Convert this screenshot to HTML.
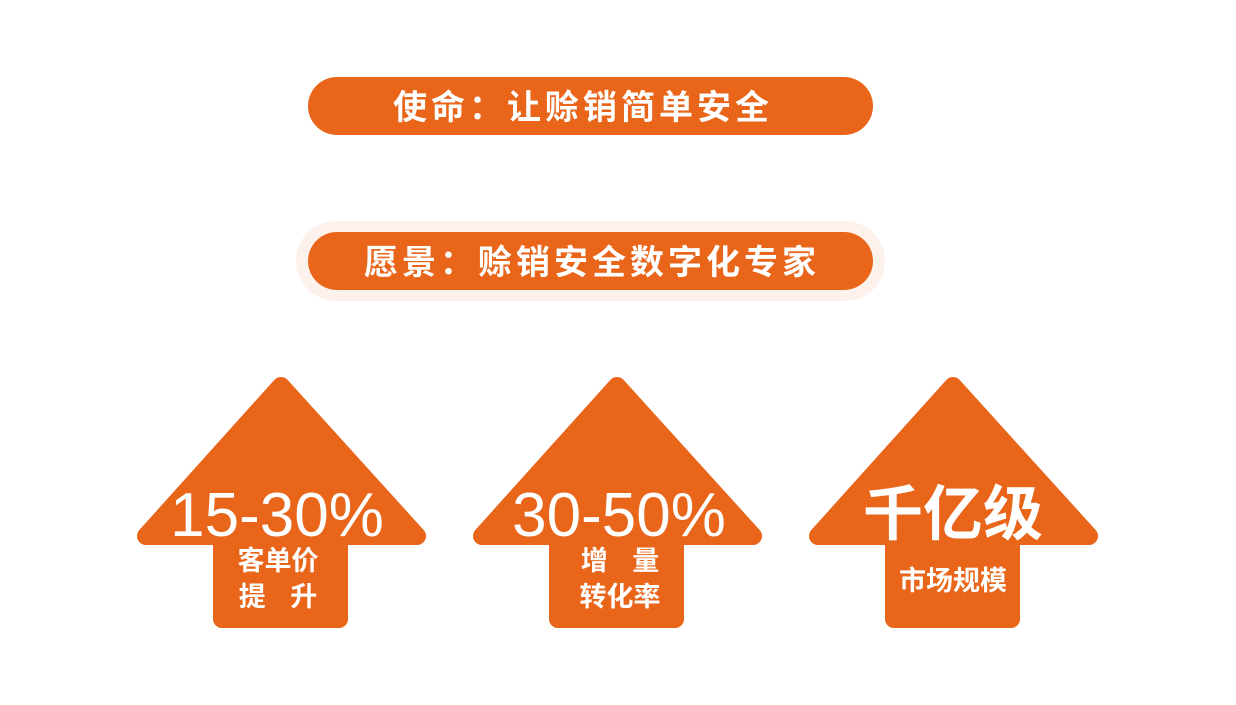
<!DOCTYPE html>
<html><head><meta charset="utf-8"><style>
body{margin:0;width:1236px;height:705px;background:#fff;overflow:hidden;font-family:"Liberation Sans","Noto Sans CJK SC",sans-serif;}
</style></head><body>
<svg width="1236" height="705" xmlns="http://www.w3.org/2000/svg" style="position:absolute;left:0;top:0">
<rect x="308" y="77" width="565" height="58" rx="29" fill="#E8651A"/>
<text x="583" y="119" text-anchor="middle" font-size="34" font-weight="bold" letter-spacing="4" fill="#fff" font-family="Noto Sans CJK SC, sans-serif">使命：让赊销简单安全</text>
<rect x="296" y="221" width="589" height="80" rx="40" fill="#FDF1EC"/>
<rect x="308" y="232" width="565" height="58" rx="29" fill="#E8651A"/>
<text x="592" y="274" text-anchor="middle" font-size="34" font-weight="bold" letter-spacing="4" fill="#fff" font-family="Noto Sans CJK SC, sans-serif">愿景：赊销安全数字化专家</text>
<g fill="#E8651A" stroke="#E8651A" stroke-width="18" stroke-linejoin="round">
<path d="M281,386 L417,536 L339,536 L339,619 L222,619 L222,536 L146,536 Z"/>
<path d="M617,386 L753,536 L675,536 L675,619 L558,619 L558,536 L482,536 Z"/>
<path d="M953,386 L1089,536 L1011,536 L1011,619 L894,619 L894,536 L818,536 Z"/>
</g>
<g fill="#fff" text-anchor="middle">
<text x="277" y="536" font-size="62">15-30%</text>
<text x="619" y="536" font-size="62">30-50%</text>
<text x="953" y="535" font-size="60" font-weight="bold" font-family="Noto Sans CJK SC, sans-serif">千亿级</text>
<g font-size="27" font-weight="bold" font-family="Noto Sans CJK SC, sans-serif">
<text x="278" y="570">客单价</text>
<text x="278" y="606" xml:space="preserve">提    升</text>
<text x="620" y="570" xml:space="preserve">增    量</text>
<text x="620" y="606">转化率</text>
<text x="953" y="590">市场规模</text>
</g>
</g>
</svg>
</body></html>
